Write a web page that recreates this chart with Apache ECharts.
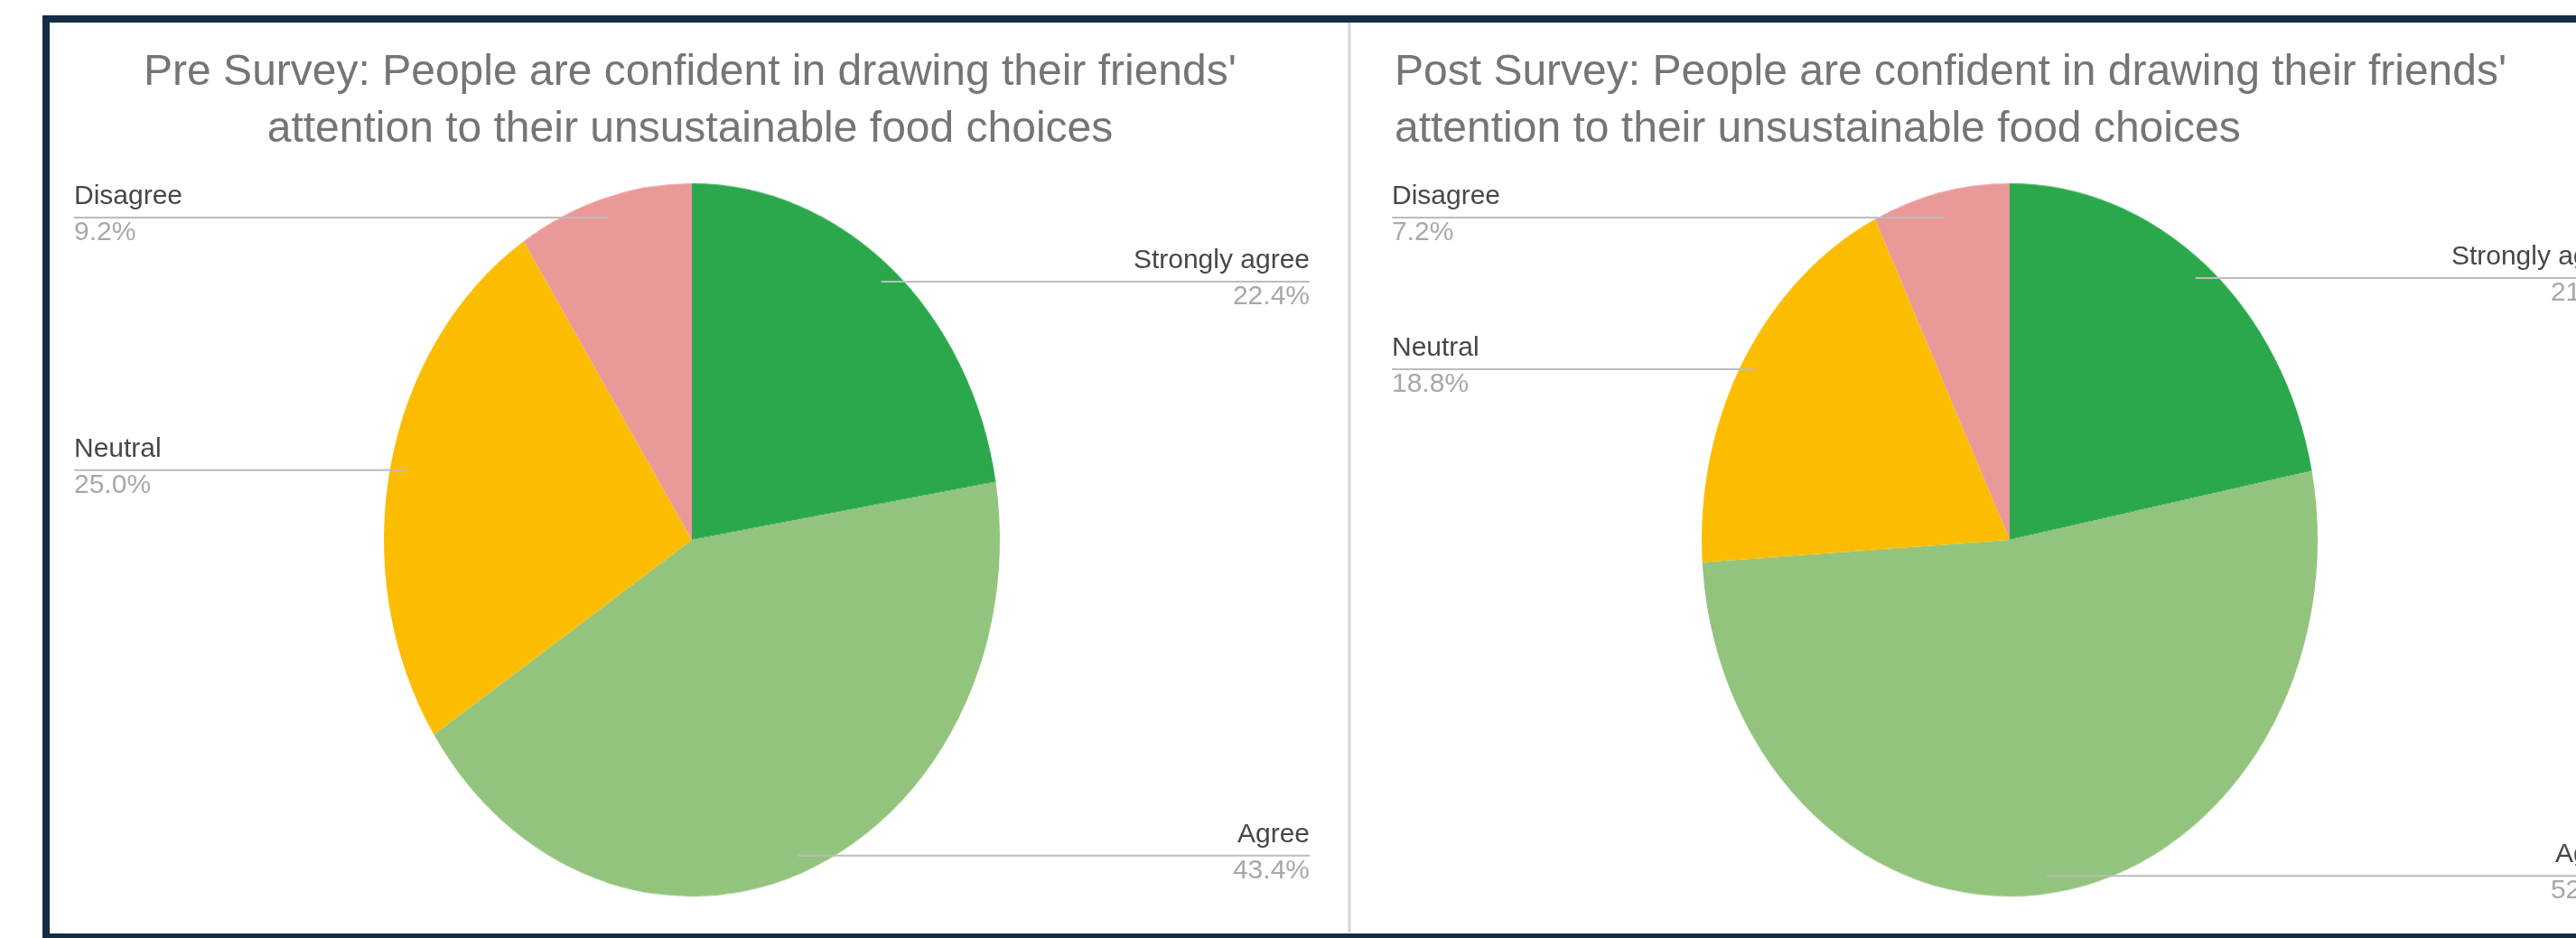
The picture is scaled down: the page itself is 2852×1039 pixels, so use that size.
<!DOCTYPE html>
<html>
<head>
<meta charset="utf-8">
<script src="https://cdn.jsdelivr.net/npm/echarts@6/dist/echarts.min.js"></script>
<style>
html,body{margin:0;padding:0;background:#ffffff;width:2852px;height:1039px;overflow:hidden;}
#pies{position:absolute;left:0;top:0;width:2852px;height:1039px;transform-origin:0 598px;}
#main{position:absolute;left:0;top:0;width:2852px;height:1039px;}
</style>
</head>
<body>
<div id="pies"></div>
<div id="main"></div>
<script>
// ---- data ----
const categories = ['Strongly agree', 'Agree', 'Neutral', 'Disagree'];
const preValues = [22.4, 43.4, 25.0, 9.2];
const postValues = [21.9, 52.1, 18.8, 7.2];
const preTitle = "Pre Survey: People are confident in drawing their friends'\nattention to their unsustainable food choices";
const postTitle = "Post Survey: People are confident in drawing their friends'\nattention to their unsustainable food choices";
const sliceColors = ['#2ca84c', '#93c47d', '#fcbd01', '#ea9999'];

// ---- layout ----
const W = 2852, H = 1039;
const CY = 598, RX = 341, RY = 395, S = RY / RX, INSET = 0.95;
const LABEL_MIN_Y = 241;
const FONT = 'Liberation Sans, Arial, Helvetica, sans-serif';
const panels = [
  { left: 82, width: 1368 },
  { left: 1541, width: 1368 }
];
panels.forEach(p => { p.cx = p.left + p.width / 2; });

document.getElementById('pies').style.transform = 'scaleY(' + S + ')';

function pieSeries(values, p, forLabels) {
  const s = {
    type: 'pie',
    left: p.left, width: p.width, top: 0, height: H,
    center: ['50%', CY],
    radius: RX,
    startAngle: 90,
    clockwise: true,
    silent: true,
    animation: false,
    avoidLabelOverlap: false,
    emphasis: { disabled: true },
    itemStyle: { borderWidth: 0 },
    data: categories.map((c, i) => ({ name: c, value: values[i] }))
  };
  if (!forLabels) {
    s.label = { show: false };
    s.labelLine = { show: false };
  } else {
    s.data.forEach(d => { d.itemStyle = { color: 'rgba(0,0,0,0)' }; });
    s.label = {
      show: true,
      position: 'outside',
      alignTo: 'edge',
      edgeDistance: 0,
      formatter: prm => '{n|' + prm.name + '}\n{p|' + prm.value.toFixed(1) + '%}',
      rich: {
        n: { fontSize: 30, fontFamily: FONT, color: '#474747', lineHeight: 46 },
        p: { fontSize: 30, fontFamily: FONT, color: '#a8a8a8', lineHeight: 34 }
      }
    };
    s.labelLine = {
      show: true, length: 2, length2: 2, smooth: false,
      lineStyle: { color: '#bcbcbc', width: 2 }
    };
    s.labelLayout = function (params) {
      const pt = params.labelLinePoints;
      if (!pt) return {};
      const x1 = pt[0][0], y1 = pt[0][1];
      const ax = p.cx + INSET * (x1 - p.cx);
      const ay = Math.max(LABEL_MIN_Y, CY + INSET * S * (y1 - CY));
      const r = params.labelRect;
      const isLeft = x1 < p.cx;
      const ex = isLeft ? r.x : r.x + r.width;
      return { y: ay - 6, labelLinePoints: [[ax, ay], [ax, ay], [ex, ay]] };
    };
  }
  return s;
}

// pie sectors layer (stretched vertically to match the elliptical reference)
const pieChart = echarts.init(document.getElementById('pies'), null, { width: W, height: H, renderer: 'canvas' });
pieChart.setOption({
  animation: false,
  backgroundColor: 'transparent',
  color: sliceColors,
  series: [pieSeries(preValues, panels[0], false), pieSeries(postValues, panels[1], false)]
});

// text / frame layer
const titleStyle = { fontSize: 48, fontWeight: 'normal', fontFamily: FONT, color: '#757575', lineHeight: 63 };
const mainChart = echarts.init(document.getElementById('main'), null, { width: W, height: H, renderer: 'canvas' });
mainChart.setOption({
  animation: false,
  backgroundColor: 'transparent',
  title: [
    { text: preTitle, left: 764, top: 49, textAlign: 'center', padding: 0, textStyle: titleStyle },
    { text: postTitle, left: 1544, top: 49, textAlign: 'left', padding: 0, textStyle: titleStyle }
  ],
  graphic: [
    { type: 'rect', silent: true, shape: { x: 51, y: 21, width: 2900, height: 1017 },
      style: { fill: 'none', stroke: '#152c47', lineWidth: 8 } },
    { type: 'line', silent: true, shape: { x1: 1494, y1: 25, x2: 1494, y2: 1033 },
      style: { stroke: '#d4d4d4', lineWidth: 3 } }
  ],
  series: [pieSeries(preValues, panels[0], true), pieSeries(postValues, panels[1], true)]
});
</script>
</body>
</html>
